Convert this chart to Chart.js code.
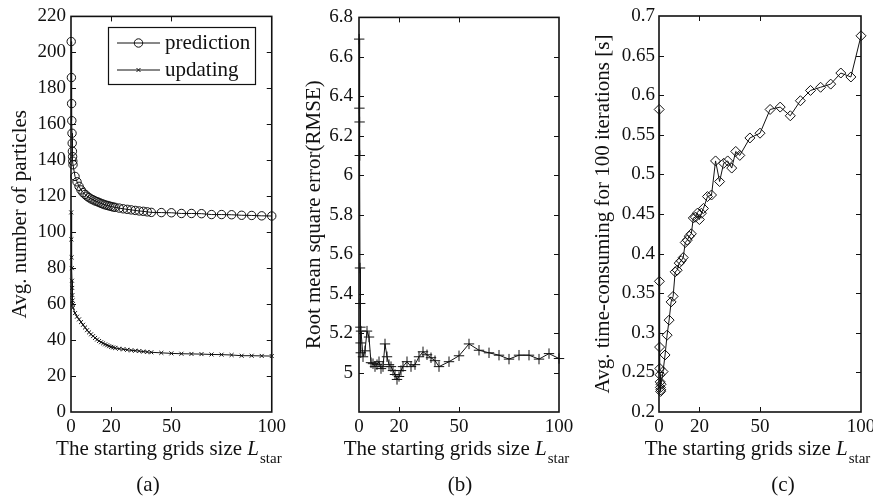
<!DOCTYPE html>
<html>
<head>
<meta charset="utf-8">
<script src="https://cdn.jsdelivr.net/npm/chart.js@4.4.0/dist/chart.umd.min.js"></script>
<style>
  html, body { margin: 0; padding: 0; background: #fff; width: 873px; height: 497px; overflow: hidden; position: relative; }
  canvas { position: absolute; top: 0; }
</style>
</head>
<body>
<canvas id="panelA" width="290" height="497" style="left:0px"></canvas>
<canvas id="panelB" width="290" height="497" style="left:290px"></canvas>
<canvas id="panelC" width="300" height="497" style="left:580px"></canvas>
<script>
// Starting grid size L_star used in every run
const lstar = [0.1, 0.2, 0.3, 0.4, 0.5, 0.6, 0.7, 0.8, 0.9, 1,
  2, 3, 4, 5, 6, 7, 8, 9, 10, 11, 12, 13, 14, 15, 16, 17, 18, 19, 20, 21, 22,
  24, 26, 28, 30, 32, 34, 36, 38, 40,
  45, 50, 55, 60, 65, 70, 75, 80, 85, 90, 95, 100];

// (a) average number of particles
const predictionParticles = [206, 186, 171.5, 162, 155, 149.5, 145, 142, 139.5, 137.5,
  131, 128, 125.5, 123.5, 122, 121, 120, 119.2, 118.5, 118, 117.4, 117, 116.5, 116, 115.6, 115.2, 114.9, 114.6, 114.3, 114, 113.8,
  113.4, 113, 112.7, 112.4, 112.1, 111.8, 111.6, 111.3, 111,
  110.9, 110.8, 110.4, 110.4, 110.3, 109.8, 109.8, 109.7, 109.4, 109.3, 109.1, 109];
const updatingParticles = [111, 96, 86, 80, 73, 69, 65, 62, 60, 58,
  55, 53, 51.5, 50, 48.5, 47, 45.5, 44.3, 43.2, 42.2, 41.2, 40.3, 39.5, 38.8, 38.2, 37.6, 37.1, 36.6, 36.2, 35.9, 35.6,
  35.2, 34.9, 34.6, 34.3, 34.1, 33.9, 33.6, 33.4, 33.2,
  32.9, 32.6, 32.4, 32.3, 32.2, 32, 31.9, 31.7, 31.3, 31.3, 31.2, 31.1];

// (b) root mean square error
const rmse = [6.69, 6.34, 6.27, 6.10, 5.53, 5.35, 5.23, 5.15, 5.10, 5.21,
  5.08, 5.11, 5.21, 5.18, 5.05, 5.045, 5.03, 5.04, 5.055, 5.02, 5.03, 5.145, 5.08, 5.04, 5.03, 5.01, 4.99, 4.965, 4.98, 5.01, 5.03,
  5.055, 5.03, 5.04, 5.08, 5.105, 5.09, 5.075, 5.06, 5.03,
  5.055, 5.085, 5.145, 5.113, 5.1, 5.088, 5.068, 5.088, 5.088, 5.068, 5.096, 5.071];

// (c) average time for 100 iterations, seconds
const timeCost = [0.582, 0.365, 0.282, 0.255, 0.247, 0.238, 0.231, 0.226, 0.228, 0.235,
  0.251, 0.272, 0.297, 0.316, 0.339, 0.346, 0.377, 0.379, 0.388, 0.391, 0.395, 0.414, 0.417, 0.422, 0.425, 0.445, 0.446, 0.451, 0.443, 0.451, 0.457,
  0.472, 0.474, 0.517, 0.491, 0.514, 0.517, 0.508, 0.529, 0.524,
  0.546, 0.552, 0.582, 0.585, 0.574, 0.593, 0.606, 0.610, 0.614, 0.628, 0.623, 0.675];

const xTickValues = [0, 20, 50, 100];
const seriesNames = ['prediction', 'updating'];
const yTitles = ['Avg. number of particles', 'Root mean square error(RMSE)', 'Avg. time-consuming for 100 iterations [s]'];
const xTitleParts = ['The starting grids size ', 'L', 'star'];
const captions = ['(a)', '(b)', '(c)'];

const SERIF = "'Liberation Serif', 'Times New Roman', serif";
const INK = '#111';

const toPoints = ys => lstar.map((x, i) => ({ x: x, y: ys[i] }));
const fmt = v => String(parseFloat(v.toFixed(2)));

// Box around the plot area with inward ticks on all four sides
const framePlugin = {
  id: 'frame',
  afterDatasetsDraw(chart) {
    const { ctx, chartArea: a, scales } = chart;
    const tl = 5;
    ctx.save();
    ctx.strokeStyle = INK;
    ctx.lineWidth = 1.6;
    ctx.strokeRect(a.left, a.top, a.right - a.left, a.bottom - a.top);
    ctx.lineWidth = 1;
    ctx.beginPath();
    scales.y.ticks.forEach(t => {
      const p = Math.round(scales.y.getPixelForValue(t.value)) + 0.5;
      if (p <= a.top + 1 || p >= a.bottom - 1) return;
      ctx.moveTo(a.left, p); ctx.lineTo(a.left + tl, p);
      ctx.moveTo(a.right, p); ctx.lineTo(a.right - tl, p);
    });
    scales.x.ticks.forEach(t => {
      const p = Math.round(scales.x.getPixelForValue(t.value)) + 0.5;
      if (p <= a.left + 1 || p >= a.right - 1) return;
      ctx.moveTo(p, a.bottom); ctx.lineTo(p, a.bottom - tl);
      ctx.moveTo(p, a.top); ctx.lineTo(p, a.top + tl);
    });
    ctx.stroke();
    ctx.restore();
  }
};

// x-axis title with italic L and subscript, plus the panel caption
const panelTextPlugin = {
  id: 'panelText',
  afterDraw(chart, args, opts) {
    const { ctx, chartArea: a } = chart;
    ctx.save();
    ctx.fillStyle = INK;
    ctx.textBaseline = 'alphabetic';
    const fMain = '21px ' + SERIF, fItal = 'italic 21px ' + SERIF, fSub = '15px ' + SERIF;
    ctx.font = fMain; const w1 = ctx.measureText(xTitleParts[0]).width;
    ctx.font = fItal; const w2 = ctx.measureText(xTitleParts[1]).width;
    ctx.font = fSub; const w3 = ctx.measureText(xTitleParts[2]).width;
    let x = (a.left + a.right) / 2 + opts.titleShift - (w1 + w2 + w3) / 2;
    const base = opts.titleBase;
    ctx.textAlign = 'left';
    ctx.font = fMain; ctx.fillText(xTitleParts[0], x, base); x += w1;
    ctx.font = fItal; ctx.fillText(xTitleParts[1], x, base); x += w2 + 1;
    ctx.font = fSub; ctx.fillText(xTitleParts[2], x, base + 8);
    ctx.font = fMain;
    ctx.textAlign = 'center';
    ctx.textBaseline = 'middle';
    ctx.fillText(opts.caption, opts.captionX, 485);
    ctx.restore();
  }
};

// Boxed legend inside panel (a)
const boxLegendPlugin = {
  id: 'boxLegend',
  afterDraw(chart, args, opts) {
    if (!opts.show) return;
    const { ctx } = chart;
    const bx = 108, by = 27, bw = 147, bh = 57;
    ctx.save();
    ctx.fillStyle = '#fff';
    ctx.fillRect(bx, by, bw, bh);
    ctx.strokeStyle = INK;
    ctx.lineWidth = 1.2;
    ctx.strokeRect(bx + 0.5, by + 0.5, bw, bh);
    chart.data.datasets.forEach((ds, i) => {
      const y = by + 16 + i * 27;
      ctx.strokeStyle = ds.borderColor;
      ctx.lineWidth = 1;
      ctx.beginPath();
      ctx.moveTo(bx + 9, y); ctx.lineTo(bx + 52, y);
      ctx.stroke();
      ctx.fillStyle = 'rgba(0,0,0,0)';
      Chart.helpers.drawPoint(ctx, { pointStyle: ds.pointStyle, radius: ds.pointRadius, rotation: 0, borderWidth: 1 }, bx + 30.5, y);
      ctx.fillStyle = INK;
      ctx.font = '21px ' + SERIF;
      ctx.textAlign = 'left';
      ctx.textBaseline = 'middle';
      ctx.fillText(ds.label, bx + 57, y);
    });
    ctx.restore();
  }
};

function lineSet(label, ys, style, radius) {
  return {
    label: label,
    data: toPoints(ys),
    borderColor: INK,
    borderWidth: 1,
    pointStyle: style,
    pointRadius: radius,
    pointHoverRadius: radius,
    pointBorderColor: INK,
    pointBorderWidth: 1,
    pointBackgroundColor: 'rgba(0,0,0,0)',
    tension: 0,
    fill: false,
    clip: false
  };
}

function makePanel(id, cfg) {
  const tickFont = { family: SERIF, size: 19 };
  return new Chart(document.getElementById(id), {
    type: 'line',
    data: { datasets: cfg.datasets },
    plugins: [framePlugin, panelTextPlugin, boxLegendPlugin],
    options: {
      responsive: false,
      animation: false,
      devicePixelRatio: 1,
      layout: { padding: { top: 16, right: cfg.padRight, bottom: 0, left: 0 } },
      plugins: {
        legend: { display: false },
        tooltip: { enabled: false },
        panelText: { caption: cfg.caption, captionX: cfg.captionX, titleShift: -3, titleBase: 455 },
        boxLegend: { show: !!cfg.legend }
      },
      scales: {
        x: {
          type: 'linear',
          min: 0, max: 100,
          afterBuildTicks: s => { s.ticks = xTickValues.map(v => ({ value: v })); },
          afterFit: s => { s.height = 85; },
          grid: { display: false, drawTicks: false },
          border: { display: false },
          ticks: { color: INK, font: tickFont, padding: 4, maxRotation: 0, autoSkip: false, callback: v => String(v) }
        },
        y: {
          type: 'linear',
          min: cfg.yMin, max: cfg.yMax,
          afterFit: s => { s.width = cfg.yWidth; },
          grid: { display: false, drawTicks: false },
          border: { display: false },
          ticks: { color: INK, font: tickFont, padding: cfg.labelPad, stepSize: cfg.yStep, autoSkip: false, callback: cfg.yLabel },
          title: { display: true, text: cfg.yTitle, color: INK, font: { family: SERIF, size: 21, lineHeight: 1.2 }, padding: { top: cfg.titlePad, bottom: 0 } }
        }
      }
    }
  });
}

makePanel('panelA', {
  datasets: [
    lineSet(seriesNames[0], predictionParticles, 'circle', 4.2),
    lineSet(seriesNames[1], updatingParticles, 'crossRot', 2.8)
  ],
  legend: true,
  yMin: 0, yMax: 220, yStep: 20, yLabel: v => fmt(v),
  yWidth: 71, padRight: 18, labelPad: 5, titlePad: 8,
  yTitle: yTitles[0], caption: captions[0], captionX: 148
});

makePanel('panelB', {
  datasets: [lineSet('RMSE', rmse, 'cross', 5.2)],
  yMin: 4.8, yMax: 6.8, yStep: 0.2, yLabel: v => (v < 4.85 ? '' : fmt(v)),
  yWidth: 69, padRight: 21, labelPad: 6, titlePad: 12,
  yTitle: yTitles[1], caption: captions[1], captionX: 170
});

makePanel('panelC', {
  datasets: [lineSet('time', timeCost, 'rectRot', 5)],
  yMin: 0.2, yMax: 0.7, yStep: 0.05, yLabel: v => fmt(v),
  yWidth: 79, padRight: 19, labelPad: 4, titlePad: 11,
  yTitle: yTitles[2], caption: captions[2], captionX: 203
});
</script>
</body>
</html>
